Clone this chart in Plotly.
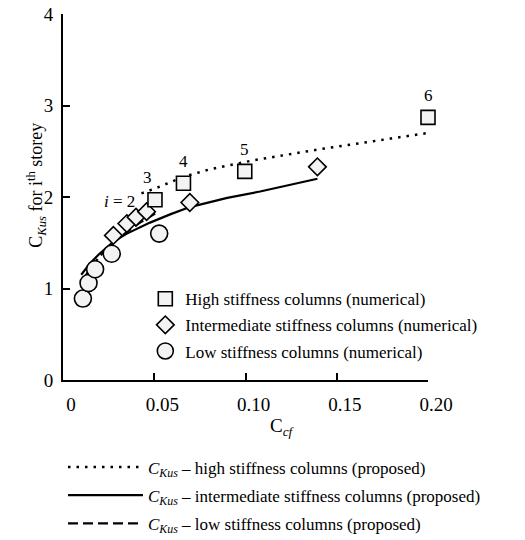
import plotly.graph_objects as go

# ---- data ----
high_x = [0.0504, 0.066, 0.0996, 0.200]
high_y = [1.97, 2.15, 2.28, 2.87]
high_labels = ["3", "4", "5", "6"]

inter_x = [0.0276, 0.035, 0.040, 0.0458, 0.0695, 0.1394]
inter_y = [1.58, 1.71, 1.78, 1.84, 1.94, 2.33]

low_x = [0.0109, 0.014, 0.0176, 0.0267, 0.0527]
low_y = [0.89, 1.06, 1.21, 1.38, 1.60]

prop_high_x = [0.043, 0.050, 0.066, 0.080, 0.104, 0.140, 0.170, 0.200]
prop_high_y = [2.04, 2.09, 2.22, 2.30, 2.40, 2.52, 2.61, 2.70]

prop_inter_x = [0.010, 0.015, 0.020, 0.0275, 0.035, 0.0477, 0.0587, 0.0695, 0.090, 0.108, 0.1394]
prop_inter_y = [1.15, 1.28, 1.38, 1.51, 1.60, 1.72, 1.81, 1.89, 1.99, 2.06, 2.20]

prop_low_x = [0.011, 0.015, 0.020, 0.027, 0.035, 0.043, 0.0505]
prop_low_y = [1.10, 1.22, 1.35, 1.49, 1.62, 1.73, 1.82]

x_ticks = [0, 0.05, 0.10, 0.15, 0.20]
x_ticktext = ["0", "0.05", "0.10", "0.15", "0.20"]
y_ticks = [0, 1, 2, 3, 4]

FONT = "Liberation Serif"
FILL = "#f3f3f3"

fig = go.Figure()

# proposed curves (legend2, below the plot)
fig.add_trace(go.Scatter(
    x=prop_high_x, y=prop_high_y, mode="lines",
    line=dict(color="black", width=2.5, dash="2.5px,6px"),
    name="<i>C</i><sub><i>Kus</i></sub> – high stiffness columns (proposed)",
    legend="legend2", legendgroup="p1", legendrank=1, cliponaxis=False))
fig.add_trace(go.Scatter(
    x=prop_inter_x, y=prop_inter_y, mode="lines",
    line=dict(color="black", width=2.2),
    name="<i>C</i><sub><i>Kus</i></sub> – intermediate stiffness columns (proposed)",
    legend="legend2", legendgroup="p2", legendrank=2, cliponaxis=False))
fig.add_trace(go.Scatter(
    x=prop_low_x, y=prop_low_y, mode="lines",
    line=dict(color="black", width=2.2, dash="10px,5px"),
    name="<i>C</i><sub><i>Kus</i></sub> – low stiffness columns (proposed)",
    legend="legend2", legendgroup="p3", legendrank=3, cliponaxis=False))

# numerical results (legend inside plot)
fig.add_trace(go.Scatter(
    x=low_x, y=low_y, mode="markers",
    marker=dict(symbol="circle", size=17, color=FILL, line=dict(color="black", width=1.6)),
    name="Low stiffness columns (numerical)", legendgroup="n3", legendrank=3, cliponaxis=False))
fig.add_trace(go.Scatter(
    x=inter_x, y=inter_y, mode="markers",
    marker=dict(symbol="diamond", size=13.5, color=FILL, line=dict(color="black", width=1.6)),
    name="Intermediate stiffness columns (numerical)", legendgroup="n2", legendrank=2, cliponaxis=False))
fig.add_trace(go.Scatter(
    x=high_x, y=high_y, mode="markers",
    marker=dict(symbol="square", size=14, color=FILL, line=dict(color="black", width=1.6)),
    name="High stiffness columns (numerical)", legendgroup="n1", legendrank=1, cliponaxis=False))

annotations = []
for xv, yv, lab in zip(high_x, high_y, high_labels):
    annotations.append(dict(x=xv, y=yv, xref="x", yref="y", text=lab, showarrow=False,
                            yshift=22, xshift=-7 if lab == "3" else 0,
                            font=dict(family=FONT, size=17, color="black")))
annotations.append(dict(x=0.0307, y=1.95, xref="x", yref="y", text="<i>i</i> = 2", showarrow=False,
                        font=dict(family=FONT, size=17, color="black")))
annotations.append(dict(x=-0.1115, y=0.533, xref="paper", yref="paper", textangle=-90,
                        text="C<sub><i>Kus</i></sub> for i<sup>th</sup> storey", showarrow=False,
                        font=dict(family=FONT, size=18, color="black")))
annotations.append(dict(x=0.601, y=-0.167, xref="paper", yref="paper",
                        text="C<sub><i>cf</i></sub>", showarrow=False,
                        font=dict(family=FONT, size=19, color="black")))

fig.update_layout(
    width=525, height=540,
    margin=dict(l=63, r=97, t=14, b=160, autoexpand=False),
    paper_bgcolor="white", plot_bgcolor="white",
    font=dict(family=FONT, size=17, color="black"),
    showlegend=True,
    legend=dict(x=0.2255, y=0.27, xanchor="left", yanchor="top",
                bgcolor="rgba(0,0,0,0)", tracegroupgap=1,
                font=dict(family=FONT, size=17, color="black")),
    legend2=dict(x=0.0, y=-0.19, xanchor="left", yanchor="top", itemwidth=75,
                 bgcolor="rgba(0,0,0,0)", tracegroupgap=3,
                 font=dict(family=FONT, size=17, color="black")),
    annotations=annotations,
)
fig.update_xaxes(range=[0, 0.2], tickvals=x_ticks, ticktext=x_ticktext,
                 showgrid=False, zeroline=False, showline=True, linecolor="black", linewidth=2,
                 ticks="inside", ticklen=7, tickwidth=1.6, tickcolor="black",
                 ticklabelshift=8, ticklabelstandoff=6,
                 tickfont=dict(family=FONT, size=19, color="black"))
fig.update_yaxes(range=[0, 4], tickvals=y_ticks,
                 showgrid=False, zeroline=False, showline=True, linecolor="black", linewidth=2,
                 ticks="inside", ticklen=7, tickwidth=1.6, tickcolor="black",
                 ticklabelstandoff=4,
                 tickfont=dict(family=FONT, size=19, color="black"))

fig.write_html("out.html")
